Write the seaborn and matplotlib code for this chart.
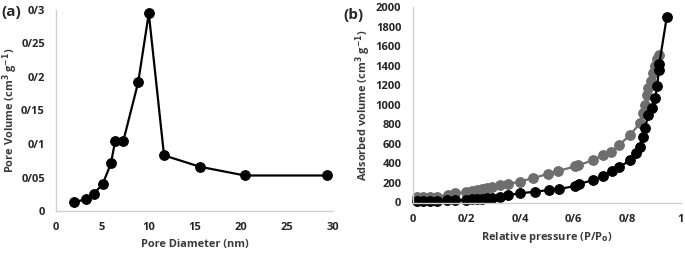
import numpy as np
import pandas as pd
import seaborn as sns
import matplotlib.pyplot as plt
from matplotlib.ticker import FuncFormatter, MultipleLocator

# panel (a): pore size distribution
pore_diameter = [1.95, 3.2, 4.1, 5.05, 5.95, 6.4, 7.3, 8.9, 10.05, 11.7, 15.6, 20.45, 29.3]
pore_volume = [0.013, 0.0175, 0.026, 0.040, 0.071, 0.104, 0.105, 0.192, 0.295, 0.083, 0.066, 0.053, 0.053]

# panel (b): isotherm, black branch
p_black = [0.0155, 0.040, 0.065, 0.09, 0.127, 0.158, 0.2, 0.22, 0.239, 0.258, 0.276, 0.295,
           0.326, 0.357, 0.40, 0.456, 0.510, 0.547, 0.605, 0.621, 0.673, 0.708, 0.742, 0.770,
           0.81, 0.832, 0.847, 0.857, 0.866, 0.878, 0.891, 0.903, 0.912, 0.917, 0.919, 0.947]
v_black = [20, 20, 20, 20, 22, 22, 28, 32, 35, 38, 42, 45,
           60, 77, 94, 111, 128, 138, 169, 190, 230, 275, 326, 360,
           435, 504, 572, 674, 760, 897, 965, 1067, 1194, 1360, 1420, 1900]

# panel (b): isotherm, gray branch
p_gray = [0.015, 0.04, 0.065, 0.09, 0.133, 0.158, 0.2, 0.22, 0.239, 0.258, 0.276, 0.295,
          0.326, 0.357, 0.40, 0.45, 0.506, 0.543, 0.605, 0.618, 0.673, 0.708, 0.739, 0.770,
          0.81, 0.847, 0.86, 0.866, 0.872, 0.878, 0.888, 0.897, 0.905, 0.912, 0.919]
v_gray = [55, 55, 57, 58, 80, 95, 105, 120, 130, 138, 148, 155,
          175, 190, 215, 250, 295, 323, 370, 380, 435, 487, 520, 589,
          692, 811, 914, 1000, 1100, 1170, 1250, 1324, 1400, 1470, 1511]

sns.set_style('white')
plt.rcParams['font.family'] = ['Open Sans', 'DejaVu Sans']

fig = plt.figure(figsize=(6.85, 2.56), dpi=100)
ax1 = fig.add_axes([56 / 685, 45 / 256, 277 / 685, 201 / 256])
ax2 = fig.add_axes([412.5 / 685, 53.5 / 256, 268.5 / 685, 195.2 / 256])

def slash_fmt(v, pos):
    s = f'{v:g}'
    return s.replace('.', '/')

label_kw = dict(fontsize=7.9, fontweight='bold', color='#3a3a3a')
grid_col = '#d0d0d0'

# (a)
sns.lineplot(x=pore_diameter, y=pore_volume, ax=ax1, color='black', marker='o', sort=False,
             markersize=7, markeredgecolor='black', linewidth=1.6)
ax1.set_xlim(0, 30)
ax1.set_ylim(0, 0.3)
ax1.xaxis.set_major_locator(MultipleLocator(5))
ax1.yaxis.set_major_locator(MultipleLocator(0.05))
ax1.set_xlabel('Pore Diameter (nm)', labelpad=4, **label_kw)
ax1.set_ylabel('Pore Volume (cm$^\\mathbf{3}$ g$^\\mathbf{-1}$)', labelpad=1, **label_kw)

# (b)
sns.lineplot(x=p_gray, y=v_gray, ax=ax2, color='#6e6e6e', marker='o', sort=False,
             markersize=7, markeredgecolor='#6e6e6e', linewidth=1.6)
sns.lineplot(x=p_black, y=v_black, ax=ax2, color='black', marker='o', sort=False,
             markersize=7, markeredgecolor='black', linewidth=1.6)
ax2.set_xlim(0, 1)
ax2.set_ylim(0, 2000)
ax2.xaxis.set_major_locator(MultipleLocator(0.2))
ax2.yaxis.set_major_locator(MultipleLocator(200))
ax2.set_xlabel('Relative pressure (P/P$_\\mathbf{o}$)', labelpad=4, **label_kw)
ax2.set_ylabel('Adsorbed volume (cm$^\\mathbf{3}$ g$^\\mathbf{-1}$)', labelpad=2, **label_kw)

for ax in (ax1, ax2):
    ax.xaxis.set_major_formatter(FuncFormatter(slash_fmt))
    ax.yaxis.set_major_formatter(FuncFormatter(slash_fmt))
    sns.despine(ax=ax)
    for side in ('left', 'bottom'):
        ax.spines[side].set_color(grid_col)
        ax.spines[side].set_linewidth(1.0)
    ax.tick_params(length=0, pad=8)
    for lab in ax.get_xticklabels() + ax.get_yticklabels():
        lab.set_fontsize(8)
        lab.set_fontweight('bold')
    for line in ax.lines:
        line.set_clip_on(False)

fig.text(0.002, 0.955, '(a)', fontsize=11, fontweight='bold', va='center', ha='left')
fig.text(343 / 685, 0.94, '(b)', fontsize=11, fontweight='bold', va='center', ha='left')

fig.savefig('out.png', dpi=100)
